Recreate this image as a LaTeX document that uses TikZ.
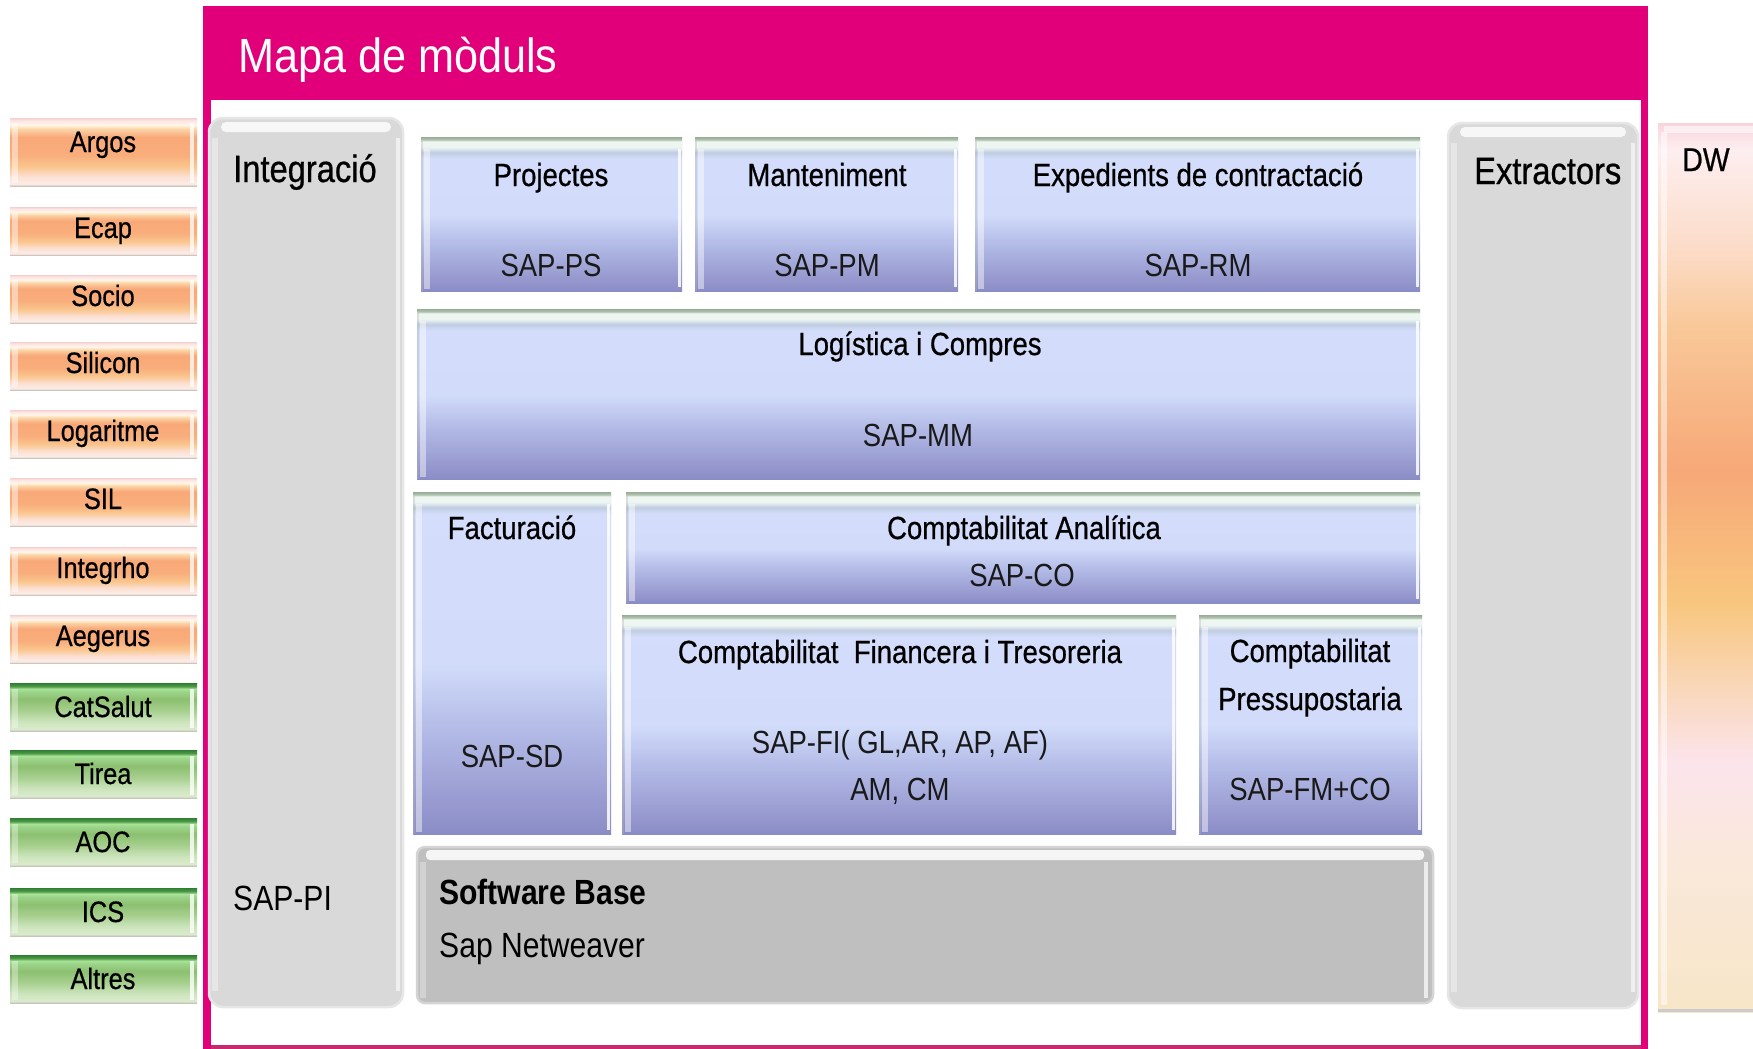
\documentclass[tikz,border=0pt]{standalone}
\usepackage{fontspec}
\setmainfont{Liberation Sans}
\newfontfamily\nar[FakeStretch=0.86]{Liberation Sans}
\newfontfamily\narb[FakeStretch=0.86,FakeBold=0.6]{Liberation Sans}
\newfontfamily\titlef[FakeStretch=0.9]{Liberation Sans}

\definecolor{tmag}{HTML}{E2007A}
\definecolor{tmagdark}{HTML}{C8286E}
\definecolor{gbox}{HTML}{D9D9D9}
\definecolor{gedge}{HTML}{E6E6E6}
\definecolor{sbase}{HTML}{BFBFBF}
\definecolor{sbedge}{HTML}{D4D4D4}
% blue body
\definecolor{bb0}{HTML}{8A8CC6}
\definecolor{bb1}{HTML}{9698CE}
\definecolor{bb2}{HTML}{B2BAE6}
\definecolor{bb3}{HTML}{D2DCFA}
\definecolor{bb4}{HTML}{D4DEFC}
% blue top bevel
\definecolor{bt1}{HTML}{C0CCE2}
\definecolor{bt2}{HTML}{EEF6F2}
\definecolor{bt3}{HTML}{AFC2AE}
\definecolor{bt4}{HTML}{98AC98}
% orange buttons
\definecolor{ob0}{HTML}{D0C4BC}
\definecolor{ob1}{HTML}{FBEDE6}
\definecolor{ob2}{HTML}{FCE0D4}
\definecolor{ob3}{HTML}{FAC68E}
\definecolor{ob4}{HTML}{F9AE7C}
\definecolor{ob5}{HTML}{F9A878}
\definecolor{ob6}{HTML}{FBD6A8}
\definecolor{ob7}{HTML}{FFF6E8}
\definecolor{ob8}{HTML}{FCE6E4}
\definecolor{ob9}{HTML}{F6D0D0}
% green buttons
\definecolor{gb0}{HTML}{C4C8BC}
\definecolor{gb1}{HTML}{DAEBCC}
\definecolor{gb2}{HTML}{CCE4BC}
\definecolor{gb3}{HTML}{A8D090}
\definecolor{gb4}{HTML}{8CC070}
\definecolor{gb5}{HTML}{9CD48A}
\definecolor{gb6}{HTML}{A8E498}
\definecolor{gb7}{HTML}{4E9A48}
\definecolor{gb8}{HTML}{2E7D32}
% DW
\definecolor{dw0}{HTML}{F8E6C8}
\definecolor{dw1}{HTML}{FAE8DC}
\definecolor{dw2}{HTML}{FCE4EC}
\definecolor{dw3}{HTML}{F9D6B6}
\definecolor{dw4}{HTML}{F8C67E}
\definecolor{dw5}{HTML}{F7A878}
\definecolor{dw6}{HTML}{F9C898}
\definecolor{dw7}{HTML}{FCDCC8}
\definecolor{dw8}{HTML}{FDEEF0}
\definecolor{dw9}{HTML}{F8D4DC}

% stops remapped into 25bp..75bp (the part that fills the path)
\pgfdeclareverticalshading{bluebody}{100bp}{color(0bp)=(bb0); color(25bp)=(bb0); color(29bp)=(bb1); color(40bp)=(bb2); color(50bp)=(bb3); color(75bp)=(bb4); color(100bp)=(bb4)}
\pgfdeclareverticalshading{bluetop}{100bp}{color(0bp)=(bb4); color(25bp)=(bb4); color(40bp)=(bt1); color(52.5bp)=(bt2); color(65bp)=(bt2); color(69bp)=(bt3); color(75bp)=(bt4); color(100bp)=(bt4)}
\pgfdeclareverticalshading{orangebtn}{100bp}{color(0bp)=(ob0); color(25bp)=(ob0); color(26.5bp)=(ob1); color(32bp)=(ob2); color(39bp)=(ob3); color(47.5bp)=(ob4); color(61bp)=(ob5); color(67bp)=(ob6); color(70bp)=(ob7); color(73bp)=(ob8); color(75bp)=(ob9); color(100bp)=(ob9)}
\pgfdeclareverticalshading{greenbtn}{100bp}{color(0bp)=(gb0); color(25bp)=(gb0); color(27bp)=(gb1); color(35bp)=(gb2); color(46bp)=(gb3); color(58bp)=(gb4); color(66bp)=(gb5); color(69bp)=(gb6); color(71.5bp)=(gb7); color(75bp)=(gb8); color(100bp)=(gb8)}
\pgfdeclareverticalshading{dwshade}{100bp}{color(0bp)=(dw0); color(25bp)=(dw0); color(34bp)=(dw1); color(39bp)=(dw2); color(43.5bp)=(dw3); color(48bp)=(dw4); color(55.5bp)=(dw5); color(63.5bp)=(dw6); color(68bp)=(dw7); color(73.5bp)=(dw8); color(75bp)=(dw9); color(100bp)=(dw9)}

\tikzset{
  lbl/.style={font=\narb\fontsize{32}{38}\selectfont, anchor=base, inner sep=0pt, text=black},
  saplbl/.style={lbl, font=\nar\fontsize{32}{38}\selectfont, text=black!90},
  btnlbl/.style={font=\narb\fontsize{29.5}{34}\selectfont, anchor=base, inner sep=0pt, text=black},
  sidelbl/.style={font=\narb\fontsize{38}{44}\selectfont, anchor=base west, inner sep=0pt, text=black},
  baselbl/.style={font=\nar\fontsize{35}{40}\selectfont, anchor=base west, inner sep=0pt, text=black},
  titlelbl/.style={font=\titlef\fontsize{48}{56}\selectfont, anchor=base west, inner sep=0pt, text=white},
}

% orange button: name, top, bottom, baseline, text
\newcommand\obtn[5]{%
  \shade[shading=orangebtn] (10,#2) rectangle (197,#3);
  \fill[white,opacity=.45] (12,#2+5) rectangle (18,#3-3);
  \fill[white,opacity=.75] (190,#2+5) rectangle (194,#3-3);
  \node[btnlbl] (#1) at (103,#4) {#5};
}
% green button: name, top, text
\newcommand\gbtn[3]{%
  \shade[shading=greenbtn] (10,#2) rectangle (197,#2+48);
  \fill[white,opacity=.35] (12,#2+6) rectangle (18,#2+45);
  \fill[white,opacity=.8] (190,#2+6) rectangle (194,#2+45);
  \node[btnlbl] (#1) at (103,#2+34) {#3};
}
% blue module box: x1,y1,x2,y2
\newcommand\modbox[4]{%
  \shade[shading=bluebody] (#1,#2) rectangle (#3,#4);
  \shade[shading=bluetop] (#1,#2) rectangle (#3,#2+22);
  \fill[white,opacity=.45] (#1+3,#2+12) rectangle (#1+9,#4-2);
  \fill[black!30,opacity=.35] (#1,#2+4) rectangle (#1+2,#4);
  \fill[white,opacity=.85] (#3-4,#2+12) rectangle (#3-1,#4-4);
}
% gray rounded box: x1,y1,x2,y2
\newcommand\graybox[4]{%
  \filldraw[fill=gbox, draw=gedge, line width=2.5pt, rounded corners=14pt] (#1,#2) rectangle (#3,#4);
  \fill[white, opacity=.8, rounded corners=5pt] (#1+12,#2+4) rectangle (#3-12,#2+14);
  \fill[white,opacity=.35] (#1+3,#2+20) rectangle (#1+9,#4-16);
  \fill[white,opacity=.6] (#3-7,#2+20) rectangle (#3-3,#4-16);
}

\begin{document}
\begin{tikzpicture}[x=1pt,y=-1pt]
\useasboundingbox (0,0) rectangle (1753,1049);
\fill[white] (0,0) rectangle (1753,1049);

% ---- frame
\fill[tmag] (203,6) rectangle (1648,1049);
\fill[white] (211,100) rectangle (1641,1045);
\fill[tmagdark] (211,1045) rectangle (1641,1049);
\node[titlelbl] (title) at (238,72) {Mapa de mòduls};

% ---- left source systems
\obtn{argos}{118}{186}{152}{Argos}
\obtn{ecap}{207}{255}{238}{Ecap}
\obtn{socio}{275}{323}{306}{Socio}
\obtn{silicon}{342}{390}{373}{Silicon}
\obtn{logaritme}{410}{458}{441}{Logaritme}
\obtn{sil}{478}{526}{509}{SIL}
\obtn{integrho}{547}{595}{578}{Integrho}
\obtn{aegerus}{615}{663}{646}{Aegerus}
\gbtn{catsalut}{683}{CatSalut}
\gbtn{tirea}{750}{Tirea}
\gbtn{aoc}{818}{AOC}
\gbtn{ics}{888}{ICS}
\gbtn{altres}{955}{Altres}

% ---- side columns
\graybox{209}{118}{403}{1007}
\node[sidelbl] (integ) at (233,182) {Integració};
\node[baselbl] (sappi) at (233,910) {SAP-PI};

\graybox{1448}{123}{1638}{1008}
\node[sidelbl] (extr) at (1474,184) {Extractors};

% ---- DW
\shade[shading=dwshade] (1658,123) rectangle (1753,1012);
\fill[white,opacity=.5] (1661,132) rectangle (1667,1005);
\fill[white,opacity=.55] (1664,126) rectangle (1753,133);
\fill[black!20] (1658,1009) rectangle (1753,1012);
\node[lbl, font=\narb\fontsize{33}{38}\selectfont] (dw) at (1706,171) {DW};

% ---- modules
\modbox{421}{137}{682}{291}
\node[lbl] (proj) at (551,186) {Projectes};
\node[saplbl] (sapps) at (551,276) {SAP-PS};

\modbox{695}{137}{958}{291}
\node[lbl] (mant) at (827,186) {Manteniment};
\node[saplbl] (sappm) at (827,276) {SAP-PM};

\modbox{975}{137}{1420}{291}
\node[lbl] (exped) at (1198,186) {Expedients de contractació};
\node[saplbl] (saprm) at (1198,276) {SAP-RM};

\modbox{417}{309}{1420}{479}
\node[lbl] (logis) at (920,355) {Logística i Compres};
\node[saplbl] (sapmm) at (918,446) {SAP-MM};

\modbox{413}{492}{611}{834}
\node[lbl] (fact) at (512,539) {Facturació};
\node[saplbl] (sapsd) at (512,767) {SAP-SD};

\modbox{626}{492}{1420}{603}
\node[lbl] (coan) at (1024,539) {Comptabilitat Analítica};
\node[saplbl] (sapco) at (1022,586) {SAP-CO};

\modbox{622}{615}{1176}{834}
\node[lbl] (cofi) at (900,663) {Comptabilitat~ Financera i Tresoreria};
\node[saplbl] (sapfi) at (900,753) {SAP-FI( GL,AR, AP, AF)};
\node[saplbl] (amcm) at (900,800) {AM, CM};

\modbox{1199}{615}{1422}{834}
\node[lbl] (copr1) at (1310,662) {Comptabilitat};
\node[lbl] (copr2) at (1310,710) {Pressupostaria};
\node[saplbl] (sapfm) at (1310,800) {SAP-FM+CO};

% ---- software base
\filldraw[fill=sbase, draw=sbedge, line width=2.5pt, rounded corners=8pt] (417,847) rectangle (1433,1003);
\fill[white,opacity=.85, rounded corners=4pt] (426,850) rectangle (1424,860);
\fill[white,opacity=.3] (420,862) rectangle (426,998);
\fill[white,opacity=.7] (1424,862) rectangle (1428,998);
\node[baselbl, font=\nar\bfseries\fontsize{35}{40}\selectfont] (swb) at (439,904) {Software Base};
\node[baselbl] (netw) at (439,957) {Sap Netweaver};
\end{tikzpicture}
\end{document}
